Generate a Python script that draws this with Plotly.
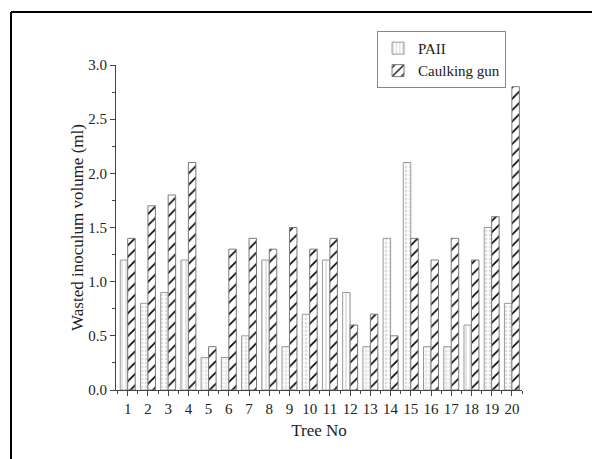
import plotly.graph_objects as go

trees = list(range(1, 21))
paii = [1.2, 0.8, 0.9, 1.2, 0.3, 0.3, 0.5, 1.2, 0.4, 0.7, 1.2, 0.9, 0.4, 1.4, 2.1, 0.4, 0.4, 0.6, 1.5, 0.8]
caulking = [1.4, 1.7, 1.8, 2.1, 0.4, 1.3, 1.4, 1.3, 1.5, 1.3, 1.4, 0.6, 0.7, 0.5, 1.4, 1.2, 1.4, 1.2, 1.6, 2.8]
tick_labels = [str(t) for t in trees]

paii_patterns = ["|", ".", ".", "|", "+", "+", ".", "|", "+", ".",
                 "|", "|", "+", ".", ".", "+", "+", "|", ".", "."]

FONT = "Liberation Serif"

fig = go.Figure()
fig.add_trace(go.Bar(
    x=trees, y=paii, name="PAII",
    marker=dict(color="white",
                line=dict(color="#9a9a9a", width=1),
                pattern=dict(shape=paii_patterns, fgcolor="#bdbdbd", bgcolor="white",
                             size=4, solidity=0.4)),
))
fig.add_trace(go.Bar(
    x=trees, y=caulking, name="Caulking gun",
    marker=dict(color="white",
                line=dict(color="#7a7a7a", width=1),
                pattern=dict(shape="/", fgcolor="black", fgopacity=1, bgcolor="white",
                             size=8, solidity=0.2)),
))

fig.update_layout(
    width=592, height=459,
    margin=dict(l=116, r=70, t=65, b=69),
    paper_bgcolor="white", plot_bgcolor="white",
    barmode="group", bargap=0.26, bargroupgap=0,
    font=dict(family=FONT, size=15, color="#222"),
    showlegend=True,
    legend=dict(x=0.643, y=1.105, xanchor="left", yanchor="top",
                bordercolor="#888", borderwidth=1, bgcolor="white",
                font=dict(family=FONT, size=15, color="#222"),
                tracegroupgap=0, itemwidth=30),
    xaxis=dict(range=[0.42, 20.5], tickmode="array", tickvals=trees, ticktext=tick_labels,
               showgrid=False, zeroline=False, showline=True, linecolor="#444", linewidth=1,
               ticks="outside", ticklen=5, tickcolor="#444",
               minor=dict(dtick=0.5, tick0=0.5, ticks="outside", ticklen=3, tickcolor="#444"),
               title=dict(text="Tree No", font=dict(family=FONT, size=17), standoff=8),
               tickfont=dict(family=FONT, size=15)),
    yaxis=dict(range=[0, 3.0], dtick=0.5, tickformat=".1f",
               showgrid=False, zeroline=False, showline=True, linecolor="#444", linewidth=1,
               ticks="outside", ticklen=5, tickcolor="#444",
               minor=dict(dtick=0.25, ticks="outside", ticklen=3, tickcolor="#444"),
               title=dict(text="Wasted inoculum volume (ml)", font=dict(family=FONT, size=17), standoff=0),
               tickfont=dict(family=FONT, size=15)),
    shapes=[
        dict(type="line", xref="paper", yref="paper",
             x0=(11 - 116) / 406, x1=(600 - 116) / 406,
             y0=(390 - 12) / 325, y1=(390 - 12) / 325,
             line=dict(color="black", width=2)),
        dict(type="line", xref="paper", yref="paper",
             x0=(11 - 116) / 406, x1=(11 - 116) / 406,
             y0=(390 - 12) / 325, y1=(390 - 470) / 325,
             line=dict(color="black", width=2)),
    ],
)

fig.write_html("out.html")
